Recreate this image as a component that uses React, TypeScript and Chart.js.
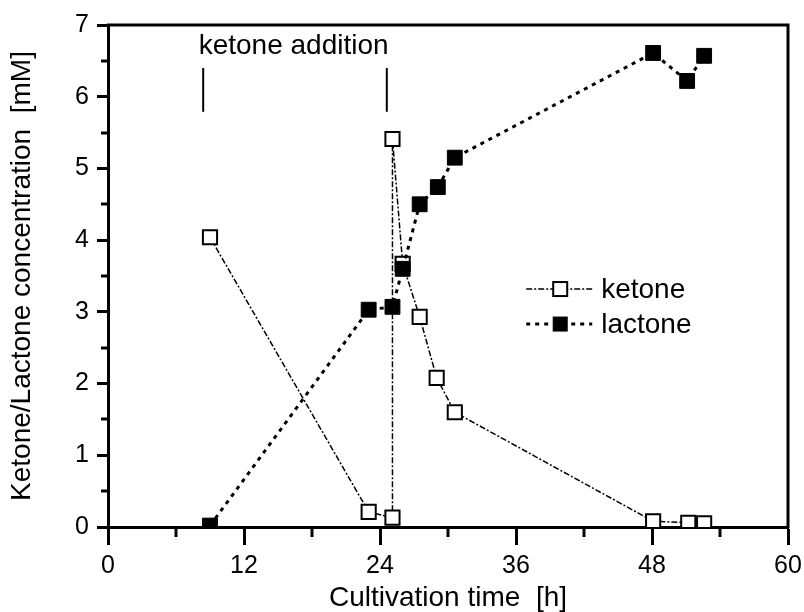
import React, { useEffect, useRef } from "react";
import { Chart, registerables } from "chart.js";

Chart.register(...registerables);

const ketoneTime = [9.0, 23.0, 25.1, 25.1, 26.0, 27.5, 29.0, 30.6, 48.1, 51.2, 52.6];
const ketoneConc = [4.04, 0.21, 0.13, 5.41, 3.67, 2.93, 2.08, 1.6, 0.08, 0.06, 0.05];
const lactoneTime = [9.0, 23.0, 25.1, 26.0, 27.5, 29.1, 30.6, 48.1, 51.1, 52.6];
const lactoneConc = [0.02, 3.03, 3.07, 3.6, 4.5, 4.74, 5.15, 6.61, 6.22, 6.57];
const additionTimes = [8.4, 24.6];
const additionMarkY = [5.79, 6.4];
const xTicks = [0, 12, 24, 36, 48, 60];
const xMinorTicks = [6, 18, 30, 42, 54];
const yTicks = [0, 1, 2, 3, 4, 5, 6, 7];
const yMinorTicks = [0.5, 1.5, 2.5, 3.5, 4.5, 5.5, 6.5];
const seriesNames = ["ketone", "lactone"];
const annotationText = "ketone addition";
const xTitle = "Cultivation time  [h]";
const yTitle = "Ketone/Lactone concentration  [mM]";

const FONT = "'Liberation Sans', Arial, sans-serif";

const frame = {
  id: "frame",
  afterDatasetsDraw(chart: any) {
    const { ctx, chartArea } = chart;
    const xs = chart.scales.x;
    const ys = chart.scales.y;
    ctx.save();
    ctx.strokeStyle = "#000";
    ctx.lineWidth = 3;
    ctx.beginPath();
    ctx.moveTo(chartArea.left - 1, chartArea.top);
    ctx.lineTo(chartArea.right, chartArea.top);
    ctx.lineTo(chartArea.right, chartArea.bottom + 1);
    ctx.stroke();
    // minor ticks
    ctx.lineWidth = 3;
    ctx.beginPath();
    xMinorTicks.forEach((v) => {
      const px = Math.round(xs.getPixelForValue(v));
      ctx.moveTo(px, chartArea.bottom);
      ctx.lineTo(px, chartArea.bottom + 10);
    });
    yMinorTicks.forEach((v) => {
      const py = Math.round(ys.getPixelForValue(v));
      ctx.moveTo(chartArea.left, py);
      ctx.lineTo(chartArea.left - 7, py);
    });
    ctx.stroke();
    // annotation text
    ctx.fillStyle = "#000";
    ctx.font = `28px ${FONT}`;
    ctx.textBaseline = "alphabetic";
    ctx.textAlign = "left";
    ctx.fillText(annotationText, xs.getPixelForValue(8.0), ys.getPixelForValue(6.6));
    // legend
    const lx = chartArea.left + (chartArea.right - chartArea.left) * 0.665;
    const ly = chartArea.top + (chartArea.bottom - chartArea.top) * 0.526;
    const rowH = 35;
    const styles = [
      { dash: [6, 2, 2, 2], w: 1.5, fill: "#fff", bw: 2 },
      { dash: [4, 5], w: 3, fill: "#000", bw: 1 },
    ];
    seriesNames.forEach((name, i) => {
      const y = ly + i * rowH;
      const s = styles[i];
      ctx.setLineDash(s.dash);
      ctx.lineWidth = s.w;
      ctx.beginPath();
      ctx.moveTo(lx - 34, y);
      ctx.lineTo(lx + 32, y);
      ctx.stroke();
      ctx.setLineDash([]);
      ctx.fillStyle = s.fill;
      ctx.fillRect(lx - 7, y - 7, 14, 14);
      ctx.lineWidth = s.bw;
      ctx.strokeRect(lx - 7, y - 7, 14, 14);
      ctx.fillStyle = "#000";
      ctx.textBaseline = "middle";
      ctx.fillText(name, lx + 41, y + 1);
    });
    ctx.restore();
  },
};

export default function App() {
  const ref = useRef<HTMLCanvasElement>(null);
  useEffect(() => {
    document.body.style.margin = "0";
    const ctx = ref.current!.getContext("2d")!;
    const chart = new Chart(ctx, {
      type: "scatter",
      data: {
        datasets: [
          {
            label: seriesNames[1],
            data: lactoneTime.map((t, i) => ({ x: t, y: lactoneConc[i] })),
            showLine: true,
            borderColor: "#000",
            borderWidth: 3,
            borderDash: [4, 5],
            pointStyle: "rect",
            pointRadius: 10.5,
            pointBackgroundColor: "#000",
            pointBorderColor: "#000",
            pointBorderWidth: 1,
            order: 0,
          },
          {
            label: seriesNames[0],
            data: ketoneTime.map((t, i) => ({ x: t, y: ketoneConc[i] })),
            showLine: true,
            borderColor: "#000",
            borderWidth: 1.5,
            borderDash: [6, 2, 2, 2],
            pointStyle: "rect",
            pointRadius: 10,
            pointBackgroundColor: "#fff",
            pointBorderColor: "#000",
            pointBorderWidth: 2,
            order: 1,
          },
          ...additionTimes.map((t) => ({
            label: "addition",
            data: additionMarkY.map((y) => ({ x: t, y })),
            showLine: true,
            borderColor: "#000",
            borderWidth: 2,
            pointRadius: 0,
            order: 2,
          })),
        ],
      },
      options: {
        responsive: false,
        animation: false,
        layout: { padding: { left: 0, right: 16, top: 25, bottom: 0 } },
        plugins: { legend: { display: false }, tooltip: { enabled: false } },
        scales: {
          x: {
            type: "linear",
            min: 0,
            max: 60,
            afterBuildTicks: (s: any) => {
              s.ticks = xTicks.map((v) => ({ value: v }));
            },
            afterFit: (s: any) => {
              s.height = 85;
              s.paddingLeft = 0;
              s.paddingRight = 0;
            },
            border: { display: true, color: "#000", width: 3 },
            grid: { display: true, drawOnChartArea: false, drawTicks: true, tickLength: 18, tickWidth: 3, tickColor: "#000" },
            ticks: { color: "#000", font: { family: FONT, size: 25 }, padding: 6, maxRotation: 0 },
            title: { display: true, text: xTitle, color: "#000", font: { family: FONT, size: 28, lineHeight: 1 }, padding: { top: 0, bottom: 0 } },
          },
          y: {
            type: "linear",
            min: 0,
            max: 7,
            afterBuildTicks: (s: any) => {
              s.ticks = yTicks.map((v) => ({ value: v }));
            },
            afterFit: (s: any) => {
              s.width = 108;
              s.paddingTop = 0;
              s.paddingBottom = 0;
            },
            border: { display: true, color: "#000", width: 3 },
            grid: { display: true, drawOnChartArea: false, drawTicks: true, tickLength: 11, tickWidth: 3, tickColor: "#000" },
            ticks: { color: "#000", font: { family: FONT, size: 25 }, padding: 8 },
            title: { display: true, text: yTitle, color: "#000", font: { family: FONT, size: 28, lineHeight: 1 }, padding: { top: 8, bottom: 0 } },
          },
        },
      },
      plugins: [frame],
    });
    return () => chart.destroy();
  }, []);
  return (
    <div style={{ width: 804, height: 612, background: "#fff" }}>
      <canvas ref={ref} width={804} height={612} />
    </div>
  );
}
